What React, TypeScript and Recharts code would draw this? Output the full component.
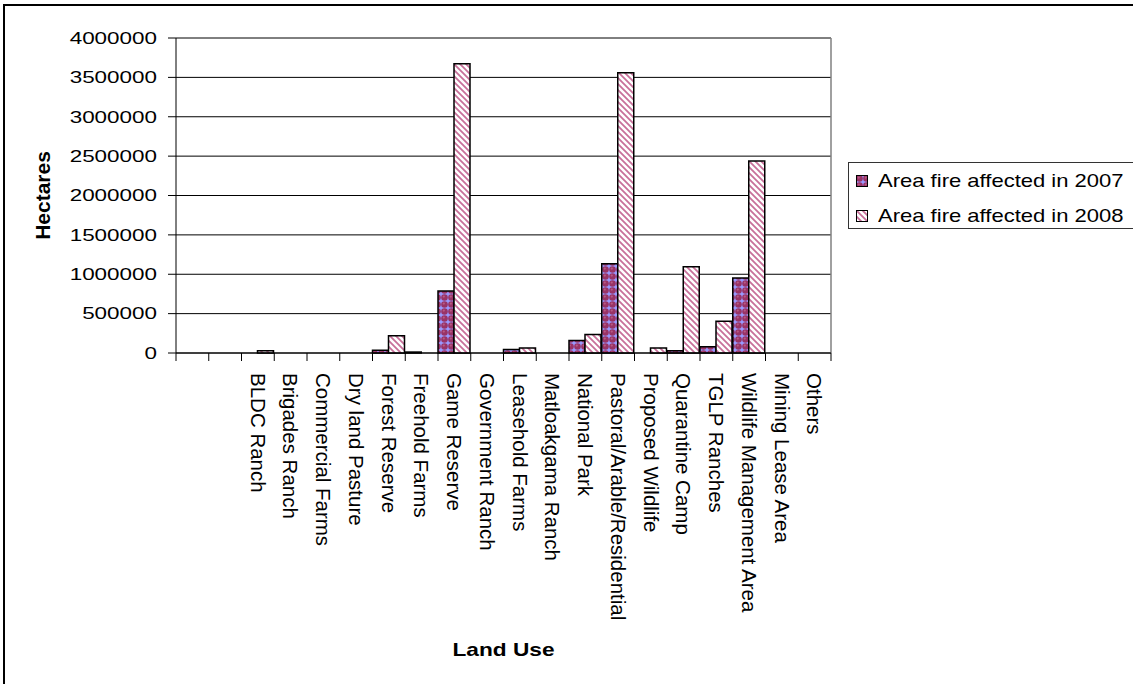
import React from 'react';
import {
  BarChart,
  Bar,
  XAxis,
  YAxis,
  CartesianGrid,
  Legend
} from 'recharts';

// land use categories (first two slots are empty in the source sheet)
const categories = [
  '',
  ' ',
  'BLDC Ranch',
  'Brigades Ranch',
  'Commercial Farms',
  'Dry land Pasture',
  'Forest Reserve',
  'Freehold Farms',
  'Game Reserve',
  'Government Ranch',
  'Leasehold Farms',
  'Matloakgama Ranch',
  'National Park',
  'Pastoral/Arable/Residential',
  'Proposed Wildlife',
  'Quarantine Camp',
  'TGLP Ranches',
  'Wildlife Management Area',
  'Mining Lease Area',
  'Others'
];

// hectares burnt
const fire2007 = [0, 0, 0, 0, 0, 0, 35000, 12000, 787000, 0, 45000, 0, 160000, 1133000, 0, 30000, 80000, 951000, 0, 0];
const fire2008 = [0, 0, 30000, 0, 0, 0, 220000, 0, 3672000, 0, 65000, 0, 235000, 3558000, 65000, 1095000, 404000, 2438000, 0, 0];

const yTicks = [0, 500000, 1000000, 1500000, 2000000, 2500000, 3000000, 3500000, 4000000];

const data = categories.map((name, i) => ({
  name,
  y2007: fire2007[i],
  y2008: fire2008[i]
}));

const FONT = '"Liberation Sans", Arial, Helvetica, sans-serif';
const LABEL_GAP = 20;

const YTick = ({ x, y, payload }: any) => (
  <text
    transform={`translate(${x},${y}) scale(1.36,1)`}
    textAnchor="end"
    dy="0.35em"
    fontSize={16.5}
    fontFamily={FONT}
    fill="#000"
  >
    {payload.value}
  </text>
);

// rotated label + tick marks on the category boundaries (Excel style)
const CategoryTick = ({ x, y, payload, index, visibleTicksCount, width }: any) => {
  const half = payload.offset || width / visibleTicksCount / 2;
  const top = y - LABEL_GAP;
  const last = index === visibleTicksCount - 1;
  return (
    <g>
      <line x1={x - half} x2={x - half} y1={top} y2={top + 8} stroke="#000" />
      {last && <line x1={x + half} x2={x + half} y1={top} y2={top + 8} stroke="#000" />}
      <text
        transform={`translate(${x},${y}) rotate(90)`}
        textAnchor="start"
        dy="0.35em"
        fontSize={20.5}
        fontFamily={FONT}
        fill="#000"
      >
        {String(payload.value).trim()}
      </text>
    </g>
  );
};

const HectaresLabel = ({ viewBox }: any) => {
  const cy = viewBox.y + viewBox.height / 2;
  return (
    <text
      transform={`translate(${viewBox.x + 43},${cy}) rotate(-90)`}
      textAnchor="middle"
      dy="0.35em"
      fontSize={21}
      fontWeight="bold"
      fontFamily={FONT}
      fill="#000"
    >
      Hectares
    </text>
  );
};

const LandUseLabel = ({ viewBox }: any) => (
  <text
    transform={`translate(${viewBox.x + viewBox.width / 2},${viewBox.y + 303}) scale(1.26,1)`}
    textAnchor="middle"
    fontSize={18}
    fontWeight="bold"
    fontFamily={FONT}
    fill="#000"
  >
    Land Use
  </text>
);

const LegendBox = ({ payload }: any) => (
  <div
    style={{
      width: 300,
      height: 67,
      border: '1px solid #333',
      boxSizing: 'border-box',
      background: '#fff',
      position: 'relative',
      fontFamily: FONT,
      color: '#000'
    }}
  >
    {(payload || []).map((p: any, i: number) => (
      <div
        key={i}
        style={{
          position: 'absolute',
          left: 7,
          top: 11 + i * 35,
          height: 14,
          display: 'flex',
          alignItems: 'center'
        }}
      >
        <svg width={12} height={12} style={{ display: 'block' }}>
          <rect x={0.5} y={0.5} width={11} height={11} fill={p.color} stroke="#000" />
        </svg>
        <span
          style={{
            marginLeft: 10,
            fontSize: 18.5,
            lineHeight: '14px',
            whiteSpace: 'nowrap',
            display: 'inline-block',
            transform: 'scaleX(1.19)',
            transformOrigin: 'left center'
          }}
        >
          {p.value}
        </span>
      </div>
    ))}
  </div>
);

export default function App() {
  return (
    <div
      style={{
        position: 'absolute',
        left: 0,
        top: 0,
        width: 1133,
        height: 684,
        overflow: 'hidden',
        background: '#fff'
      }}
    >
      <div
        style={{
          position: 'absolute',
          left: 3,
          top: 4,
          width: 1300,
          height: 900,
          border: '2px solid #000',
          boxSizing: 'border-box'
        }}
      />
      <BarChart
        width={1133}
        height={684}
        data={data}
        margin={{ top: 38, right: 302, left: 0, bottom: 31 }}
        barCategoryGap={0}
        barGap={0}
        style={{ fontFamily: FONT }}
      >
        <defs>
          <pattern id="p2007" patternUnits="userSpaceOnUse" width={7} height={7}>
            <rect width={7} height={7} fill="#9999FF" />
            <circle cx={3.5} cy={3.5} r={3.3} fill="#993366" />
            <circle cx={2.8} cy={2.6} r={1.1} fill="#B85A84" />
          </pattern>
          <pattern id="p2008" patternUnits="userSpaceOnUse" width={6} height={6}>
            <rect width={6} height={6} fill="#fff" />
            <path d="M0,0 L6,6 M-1,5 L1,7 M5,-1 L7,1" stroke="#C8709A" strokeWidth={1.8} />
          </pattern>
        </defs>
        <CartesianGrid vertical={false} stroke="#000" strokeWidth={1} />
        {/* grey plot-area frame on the right side */}
        <CartesianGrid
          horizontal={false}
          stroke="#808080"
          strokeWidth={1.5}
          verticalCoordinatesGenerator={({ offset }: any) => [offset.left + offset.width]}
        />
        <XAxis
          dataKey="name"
          interval={0}
          height={300}
          tickSize={0}
          tickMargin={LABEL_GAP}
          tickLine={false}
          axisLine={{ stroke: '#000' }}
          tick={<CategoryTick />}
          label={<LandUseLabel />}
        />
        <YAxis
          width={176}
          domain={[0, 4000000]}
          ticks={yTicks}
          interval={0}
          tickSize={8}
          tickMargin={11}
          tickLine={{ stroke: '#000' }}
          axisLine={{ stroke: '#000' }}
          tick={<YTick />}
          label={<HectaresLabel />}
        />
        <Legend
          layout="horizontal"
          verticalAlign="middle"
          align="center"
          wrapperStyle={{ left: 848, top: 162, width: 300 }}
          content={<LegendBox />}
        />
        <Bar
          dataKey="y2007"
          name="Area fire affected in 2007"
          fill="url(#p2007)"
          stroke="#000"
          strokeWidth={1.5}
          isAnimationActive={false}
        />
        <Bar
          dataKey="y2008"
          name="Area fire affected in 2008"
          fill="url(#p2008)"
          stroke="#000"
          strokeWidth={1.5}
          isAnimationActive={false}
        />
      </BarChart>
    </div>
  );
}
